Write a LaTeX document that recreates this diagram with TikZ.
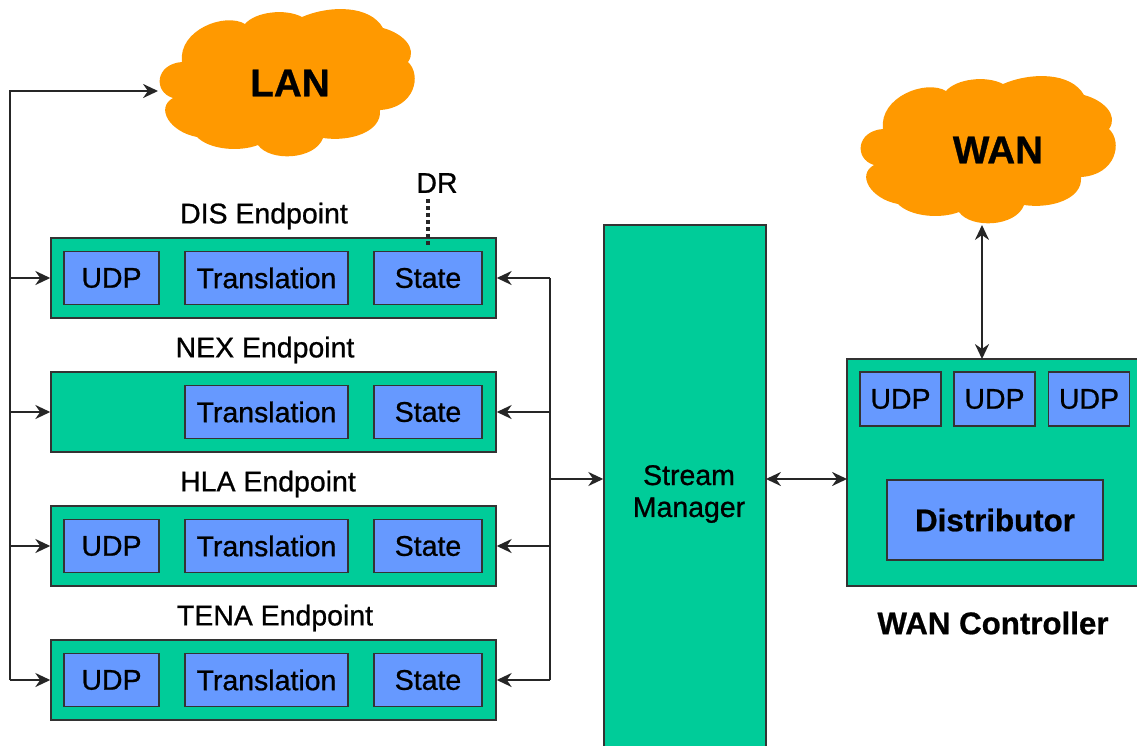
\documentclass[tikz,border=0pt]{standalone}
\usepackage{fontspec}
\setsansfont[FakeBold=0.8]{Liberation Sans}
\usetikzlibrary{shapes,arrows,arrows.meta}
\definecolor{boxgreen}{HTML}{00CC99}
\definecolor{boxblue}{HTML}{6699FF}
\definecolor{cloudorange}{HTML}{FF9900}
\tikzstyle{endpoint} = [draw=black!80, fill=boxgreen, rectangle, line width=0.9pt, minimum width=8.9cm, minimum height=1.6cm]
\tikzstyle{block} = [draw=black!80, fill=boxgreen, rectangle, line width=0.9pt, align=center, inner sep=0.5ex]
\tikzstyle{part} = [draw=black!80, fill=boxblue, rectangle, line width=0.9pt, minimum height=1.06cm, font=\sffamily\fontsize{16.2}{19}\selectfont]
\tikzstyle{udp} = [part, minimum width=1.9cm]
\tikzstyle{wanudp} = [part, minimum width=1.62cm, minimum height=1.08cm]
\tikzstyle{trans} = [part, minimum width=3.26cm]
\tikzstyle{state} = [part, minimum width=2.16cm]
\tikzstyle{title} = [inner sep=0pt, align=center, font=\sffamily\fontsize{16.2}{18.2}\selectfont]
\tikzstyle{boldtitle} = [inner sep=0pt, font=\sffamily\bfseries\fontsize{17.8}{21}\selectfont]
\tikzstyle{netfill} = [fill=cloudorange]
\tikzstyle{netlabel} = [inner sep=0pt, font=\sffamily\bfseries\fontsize{22}{26}\selectfont]
\tikzstyle{arrow} = [line width=1pt, draw=black!85, -{Stealth[length=8.5pt,width=8pt]}]
\tikzstyle{dblarrow} = [line width=1pt, draw=black!85, {Stealth[length=8.5pt,width=8pt]}-{Stealth[length=8.5pt,width=8pt]}]
\tikzstyle{bus} = [line width=1pt, draw=black!85]
\tikzstyle{dots} = [draw=black!85, line width=2.2pt, dash pattern=on 2.2pt off 1.8pt]
\newcommand{\cloudoutline}{(173,98)
    .. controls (153,92) and (155,64) .. (182,62)
    .. controls (178,30) and (225,12) .. (245,24)
    .. controls (255,12) and (285,8) .. (302,17)
    .. controls (330,5) and (370,5) .. (383,28)
    .. controls (402,33) and (418,48) .. (408,62)
    .. controls (422,75) and (415,108) .. (380,110)
    .. controls (382,132) and (350,142) .. (323,138)
    .. controls (315,160) and (270,162) .. (258,145)
    .. controls (240,152) and (210,150) .. (197,137)
    .. controls (170,132) and (155,108) .. (173,98) -- cycle}

\begin{document}
\begin{tikzpicture}[x=0.02cm,y=-0.02cm]
    \path[use as bounding box, clip] (0,0) rectangle (1137,745);
    % clouds
    \fill[netfill] \cloudoutline;
    \fill[netfill, shift={(701,67)}] \cloudoutline;
    \node[netlabel] (lantext) at (290,83) {LAN};
    \node[netlabel] (wantext) at (998,150) {WAN};
    \coordinate (lanport) at (158,91);
    \coordinate (wanport) at (982,225);
    % endpoints
    \node[title] (distitle) at (264,216) {DIS Endpoint};
    \node[endpoint] (dis) at (273.5,278) {};
    \node[udp] (disudp) at (111.5,278) {UDP};
    \node[trans] (distrans) at (266.5,278) {Translation};
    \node[state] (disstate) at (428,278) {State};
    \node[title] (dr) at (437,183) {DR};
    \node[title] (nextitle) at (265,350) {NEX Endpoint};
    \node[endpoint] (nex) at (273.5,412) {};
    \node[trans] (nextrans) at (266.5,412) {Translation};
    \node[state] (nexstate) at (428,412) {State};
    \node[title] (hlatitle) at (268,484) {HLA Endpoint};
    \node[endpoint] (hla) at (273.5,546) {};
    \node[udp] (hlaudp) at (111.5,546) {UDP};
    \node[trans] (hlatrans) at (266.5,546) {Translation};
    \node[state] (hlastate) at (428,546) {State};
    \node[title] (tenatitle) at (275,618) {TENA Endpoint};
    \node[endpoint] (tena) at (273.5,680) {};
    \node[udp] (tenaudp) at (111.5,680) {UDP};
    \node[trans] (tenatrans) at (266.5,680) {Translation};
    \node[state] (tenastate) at (428,680) {State};
    % stream manager
    \node[block, minimum width=3.24cm, minimum height=10.9cm] (sm) at (685,497.5) {};
    \node[title] (smtext) at (689,494) {Stream \\ Manager};
    % wan controller
    \node[block, minimum width=5.96cm, minimum height=4.54cm] (wc) at (996,472.5) {};
    \node[wanudp] (wcudpa) at (900.5,399) {UDP};
    \node[wanudp] (wcudpb) at (994.5,399) {UDP};
    \node[wanudp] (wcudpc) at (1089,399) {UDP};
    \node[part, minimum width=4.32cm, minimum height=1.6cm, font=\sffamily\bfseries\fontsize{17.8}{21}\selectfont] (dist) at (995,520) {Distributor};
    \node[boldtitle] (wctitle) at (993,623) {WAN Controller};
    % bus on the left
    \coordinate (ltop) at (10,91);
    \coordinate (ldis) at (10,278);
    \coordinate (lnex) at (10,412);
    \coordinate (lhla) at (10,546);
    \coordinate (ltena) at (10,680);
    \draw[arrow] (ltena) -- (ltop) -- (lanport);
    \draw[arrow] (ldis) -- (dis.west);
    \draw[arrow] (lnex) -- (nex.west);
    \draw[arrow] (lhla) -- (hla.west);
    \draw[arrow] (ltena) -- (tena.west);
    % bus on the right
    \coordinate (rdis) at (550,278);
    \coordinate (rnex) at (550,412);
    \coordinate (rhla) at (550,546);
    \coordinate (rtena) at (550,680);
    \coordinate (rmid) at (550,479);
    \coordinate (smeast) at (766,479);
    \coordinate (wcwest) at (847,479);
    \coordinate (wcnorth) at (982,359);
    \coordinate (drend) at (428,247);
    \coordinate (drstart) at (428,199);
    \draw[bus] (rdis) -- (rtena);
    \draw[arrow] (rdis) -- (dis.east);
    \draw[arrow] (rnex) -- (nex.east);
    \draw[arrow] (rhla) -- (hla.east);
    \draw[arrow] (rtena) -- (tena.east);
    \draw[arrow] (rmid) -- (sm.west |- rmid);
    \draw[dblarrow] (smeast) -- (wcwest);
    \draw[dblarrow] (wanport) -- (wcnorth);
    \draw[dots] (drstart) -- (drend);
\end{tikzpicture}
\end{document}
